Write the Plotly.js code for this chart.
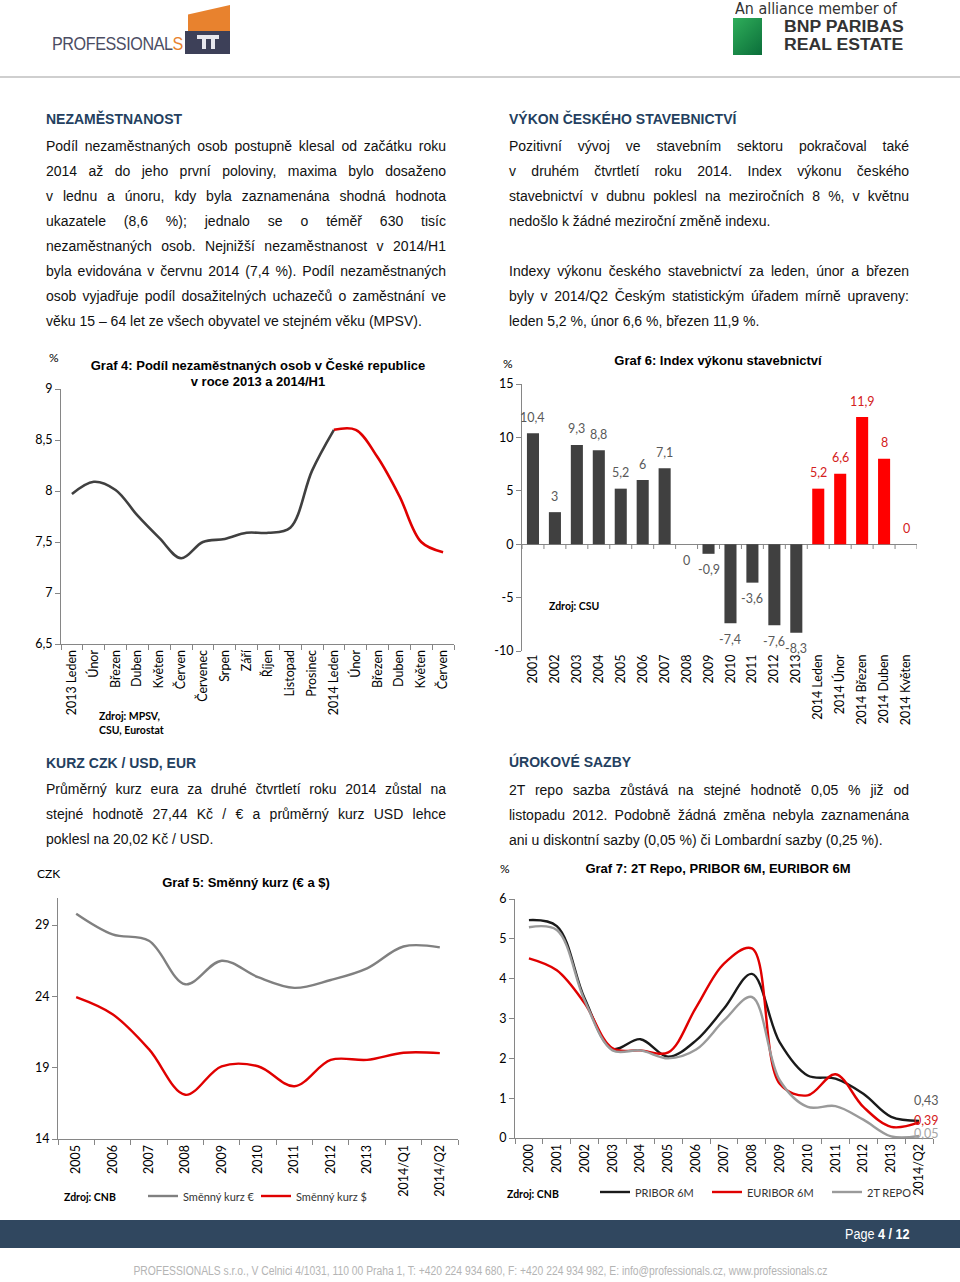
<!DOCTYPE html>
<html><head><meta charset="utf-8">
<script src="https://cdn.plot.ly/plotly-3.0.1.min.js"></script>
<style>
body{margin:0;width:960px;height:1282px;position:relative;background:#fff;font-family:'Liberation Sans',Arial,sans-serif;overflow:hidden}
.abs{position:absolute}
.h{position:absolute;font-weight:bold;font-size:14px;color:#243f60;line-height:16px;white-space:nowrap}
.txt{position:absolute;width:400px;font-size:14px;line-height:25px;color:#111}
.txt div{text-align:justify;text-align-last:justify;height:25px}
.txt div.last{text-align-last:left}
.chart{position:absolute}
.bnp{position:absolute;left:784px;font-size:16px;line-height:18px;height:18px;font-weight:bold;color:#333;transform:scaleX(1.1);transform-origin:left;white-space:nowrap}
</style></head>
<body>
<!-- header -->
<div class="abs" style="left:52px;top:33px;font-family:'Liberation Sans Narrow','Liberation Sans';font-size:19px;color:#4b4d63;letter-spacing:-0.5px;transform:scaleX(0.85);transform-origin:left;white-space:nowrap">PROFESSIONAL<span style="color:#e8822e">S</span></div>
<div class="abs" style="left:188px;top:5px;width:42px;height:27px;background:#e8822e;clip-path:polygon(0 35%,100% 0,100% 100%,0 100%)"></div>
<div class="abs" style="left:185px;top:31px;width:45px;height:23px;background:#3d4058"></div>
<div class="abs" style="left:197px;top:35px;width:22px;height:4px;background:#e8e8ee"></div>
<div class="abs" style="left:202px;top:39px;width:4px;height:10px;background:#e8e8ee"></div>
<div class="abs" style="left:211px;top:39px;width:4px;height:10px;background:#e8e8ee"></div>
<div class="abs" style="left:735px;top:1px;font-size:15px;line-height:17px;color:#333;white-space:nowrap;font-family:'DejaVu Sans Condensed','Liberation Sans';transform:scaleX(1.06);transform-origin:left">An alliance member of</div>
<div class="abs" style="left:733px;top:18px;width:29px;height:37px;background:linear-gradient(135deg,#2fae5a,#0b6e3a)"></div>
<div class="bnp" style="top:18px">BNP PARIBAS</div>
<div class="bnp" style="top:36px">REAL ESTATE</div>
<div class="abs" style="left:0;top:76px;width:960px;height:2px;background:#cfcfcf"></div>

<!-- text blocks -->
<div class="h" style="left:46px;top:111px">NEZAMĚSTNANOST</div>
<div class="txt" style="left:46px;top:134px">
<div>Podíl nezaměstnaných osob postupně klesal od začátku roku</div>
<div>2014 až do jeho první poloviny, maxima bylo dosaženo</div>
<div>v&nbsp;lednu a únoru, kdy byla zaznamenána shodná hodnota</div>
<div>ukazatele (8,6 %); jednalo se o téměř 630 tisíc</div>
<div>nezaměstnaných osob. Nejnižší nezaměstnanost v&nbsp;2014/H1</div>
<div>byla evidována v červnu 2014 (7,4 %). Podíl nezaměstnaných</div>
<div>osob vyjadřuje podíl dosažitelných uchazečů o zaměstnání ve</div>
<div class="last">věku 15 – 64 let ze všech obyvatel ve stejném věku (MPSV).</div>
</div>

<div class="h" style="left:509px;top:111px">VÝKON ČESKÉHO STAVEBNICTVÍ</div>
<div class="txt" style="left:509px;top:134px">
<div>Pozitivní vývoj ve stavebním sektoru pokračoval také</div>
<div>v&nbsp;druhém čtvrtletí roku 2014. Index výkonu českého</div>
<div>stavebnictví v&nbsp;dubnu poklesl na meziročních 8 %, v&nbsp;květnu</div>
<div class="last">nedošlo k žádné meziroční změně indexu.</div>
<div class="last"></div>
<div>Indexy výkonu českého stavebnictví za leden, únor a březen</div>
<div>byly v&nbsp;2014/Q2 Českým statistickým úřadem mírně upraveny:</div>
<div class="last">leden 5,2 %, únor 6,6 %, březen 11,9 %.</div>
</div>

<div class="h" style="left:46px;top:755px">KURZ CZK / USD, EUR</div>
<div class="txt" style="left:46px;top:777px">
<div>Průměrný kurz eura za&nbsp;druhé čtvrtletí roku 2014 zůstal na</div>
<div>stejné hodnotě 27,44 Kč / € a průměrný kurz USD lehce</div>
<div class="last">poklesl na 20,02 Kč / USD.</div>
</div>

<div class="h" style="left:509px;top:754px">ÚROKOVÉ SAZBY</div>
<div class="txt" style="left:509px;top:778px">
<div>2T repo sazba zůstává na stejné hodnotě 0,05 % již od</div>
<div>listopadu 2012. Podobně žádná změna nebyla zaznamenána</div>
<div class="last">ani u diskontní sazby (0,05 %) či Lombardní sazby (0,25 %).</div>
</div>

<div id="c4" class="chart" style="left:0;top:340px;width:480px;height:410px"></div>
<div id="c6" class="chart" style="left:480px;top:340px;width:480px;height:410px"></div>
<div id="c5" class="chart" style="left:0;top:860px;width:480px;height:350px"></div>
<div id="c7" class="chart" style="left:480px;top:850px;width:480px;height:360px"></div>

<!-- footer -->
<div class="abs" style="left:0;top:1220px;width:960px;height:28px;background:#30475f"></div>
<div class="abs" style="left:845px;top:1226px;font-size:14px;color:#fff;white-space:nowrap;transform:scaleX(0.9);transform-origin:left">Page <b>4 / 12</b></div>
<div class="abs" style="left:0;top:1264px;width:960px;text-align:center;font-size:12px;color:#b4b4b4;white-space:nowrap"><span style="display:inline-block;transform:scaleX(0.86)">PROFESSIONALS s.r.o., V Celnici 4/1031, 110 00 Praha 1, T: +420 224 934 680, F: +420 224 934 982, E: info@professionals.cz, www.professionals.cz</span></div>

<script>
// ---------- DATA ----------
// Graf 4
const months4 = ['2013 Leden','Únor','Březen','Duben','Květen','Červen','Červenec','Srpen','Září','Říjen','Listopad','Prosinec','2014 Leden','Únor','Březen','Duben','Květen','Červen'];
const unemp2013 = [7.97, 8.09, 8.01, 7.76, 7.54, 7.34, 7.50, 7.53, 7.59, 7.59, 7.64, 8.20, 8.60];
const unemp2014 = [8.60, 8.60, 8.33, 7.95, 7.50, 7.40];
// Graf 6
const cats6Gray = ['2001','2002','2003','2004','2005','2006','2007','2008','2009','2010','2011','2012','2013'];
const vals6Gray = [10.4, 3, 9.3, 8.8, 5.2, 6, 7.1, 0, -0.9, -7.4, -3.6, -7.6, -8.3];
const cats6Red = ['2014 Leden','2014 Únor','2014 Březen','2014 Duben','2014 Květen'];
const vals6Red = [5.2, 6.6, 11.9, 8, 0];
const yTicks6 = [-10, -5, 0, 5, 10, 15];
// Graf 5
const years5 = ['2005','2006','2007','2008','2009','2010','2011','2012','2013','2014/Q1','2014/Q2'];
const eur5 = [29.8, 28.35, 27.9, 24.85, 26.5, 25.35, 24.6, 25.15, 25.97, 27.5, 27.44];
const usd5 = [23.95, 22.75, 20.3, 17.1, 19.1, 19.1, 17.7, 19.55, 19.55, 20.05, 20.02];
// Graf 7
const years7 = ['2000','2001','2002','2003','2004','2005','2006','2007','2008','2009','2010','2011','2012','2013','2014/Q2'];
const pribor7 = [5.47, 5.32, 3.5, 2.24, 2.48, 2.04, 2.45, 3.25, 4.12, 2.4, 1.57, 1.49, 1.11, 0.53, 0.43];
const euribor7 = [4.51, 4.21, 3.38, 2.25, 2.2, 2.15, 3.28, 4.38, 4.76, 1.36, 1.07, 1.6, 0.78, 0.28, 0.39];
const repo7 = [5.29, 5.22, 3.45, 2.2, 2.2, 2.0, 2.22, 2.95, 3.54, 1.45, 0.78, 0.8, 0.46, 0.04, 0.05];

// ---------- HELPERS ----------
const FONT = 'Lato, "Open Sans", sans-serif';
const TFONT = {family:'"Liberation Sans", Arial, sans-serif', size:13, color:'#000'};
const fmt = v => String(v).replace('.', ',');
function conv(b){
  return {
    x: px => (px - b.left - b.l) / (b.w - b.l - b.r),
    y: py => 1 - (py - b.top - b.t) / (b.h - b.t - b.b)
  };
}
function txt(c, text, px, py, opt){
  return Object.assign({xref:'paper', yref:'paper', x:c.x(px), y:c.y(py), text:text, showarrow:false,
    xanchor:'left', yanchor:'middle', font:{family:FONT, size:12, color:'#000'}}, opt||{});
}
// legend entry drawn as a line sample + label, taken from the trace's name and colour
function legendEntry(c, trace, px, py, shapes, ann){
  shapes.push({type:'line', xref:'paper', yref:'paper', x0:c.x(px), x1:c.x(px + 30), y0:c.y(py), y1:c.y(py),
    line:{color:trace.line.color, width:2.4}});
  ann.push(txt(c, trace.name, px + 33, py, {font:{family:FONT, size:11, color:'#333'}}));
}
const cfg = {staticPlot:true, displayModeBar:false};
function baseAxisX(){
  return {showline:true, linecolor:'#868686', linewidth:1, ticks:'outside', ticklen:5, tickcolor:'#868686',
    tickangle:-90, tickfont:{family:FONT, size:12.5, color:'#000'}, showgrid:false, zeroline:false, fixedrange:true};
}
function baseAxisY(){
  return {showline:true, linecolor:'#868686', linewidth:1, ticks:'outside', ticklen:5, tickcolor:'#868686',
    tickfont:{family:FONT, size:12.5, color:'#000'}, showgrid:false, zeroline:false, fixedrange:true};
}
function marg(b){ return {l:b.l, r:b.r, t:b.t, b:b.b, autoexpand:false}; }
function betweenTicks(n){
  const v = []; for (let i = 0; i <= n; i++) v.push(i - 0.5);
  return {ticks:'outside', ticklen:5, tickcolor:'#868686', tickmode:'array', tickvals:v};
}

// ---------- GRAF 4 ----------
(function(){
  const b = {left:0, top:340, w:480, h:410, l:61, r:26, t:49, b:106};
  const c = conv(b);
  const idx = months4.map((_, i) => i);
  const n13 = unemp2013.length;
  const traces = [
    {x: idx.slice(0, n13), y: unemp2013, type:'scatter', mode:'lines', line:{color:'#404040', width:2.6, shape:'spline', smoothing:1}, hoverinfo:'skip'},
    {x: idx.slice(n13 - 1, n13 - 1 + unemp2014.length), y: unemp2014, type:'scatter', mode:'lines', line:{color:'#e00000', width:2.6, shape:'spline', smoothing:1}, hoverinfo:'skip'}
  ];
  const xa = Object.assign(baseAxisX(), {range:[-0.5, months4.length - 0.5], tickmode:'array', tickvals:idx, ticktext:months4, ticks:'', minor:betweenTicks(months4.length)});
  const ya = Object.assign(baseAxisY(), {range:[6.5, 9], tick0:6.5, dtick:0.5});
  const layout = {
    width:b.w, height:b.h, margin:marg(b), showlegend:false,
    paper_bgcolor:'rgba(0,0,0,0)', plot_bgcolor:'rgba(0,0,0,0)', separators:', ',
    title:{text:'<b>Graf 4: Podíl nezaměstnaných osob v České republice<br>v roce 2013 a 2014/H1</b>', font:TFONT,
      xref:'container', yref:'container', x:258/480, y:1 - 29.5/410, xanchor:'center', yanchor:'middle'},
    xaxis:xa, yaxis:ya,
    annotations:[
      txt(c, '%', 47, 357, {font:{family:FONT, size:12, color:'#000'}}),
      txt(c, '<b>Zdroj: MPSV,<br>CSU, Eurostat</b>', 97, 723, {font:{family:FONT, size:10.5, color:'#000'}, align:'left'})
    ]
  };
  Plotly.newPlot('c4', traces, layout, cfg);
})();

// ---------- GRAF 6 ----------
(function(){
  const b = {left:480, top:340, w:480, h:410, l:42, r:43, t:44, b:99};
  const c = conv(b);
  const allCats = cats6Gray.concat(cats6Red);
  const traces = [
    {x: cats6Gray, y: vals6Gray, type:'bar', marker:{color:'#404040', line:{width:0}}, hoverinfo:'skip'},
    {x: cats6Red, y: vals6Red, type:'bar', marker:{color:'#ff0000', line:{width:0}}, hoverinfo:'skip'}
  ];
  const ann = [];
  function lab(cats, vals, color, zeroUp){
    cats.forEach((k, i) => {
      const v = vals[i];
      const up = v > 0 || (v === 0 && zeroUp);
      ann.push({x:allCats.indexOf(k), y:v, xref:'x', yref:'y', text:fmt(v), showarrow:false, yanchor:'middle', xanchor:'center',
        yshift: up ? 16 : -16, font:{family:FONT, size:12.5, color:color}});
    });
  }
  lab(cats6Gray, vals6Gray, '#595959', false);
  lab(cats6Red, vals6Red, '#d42020', true);
  ann.push(txt(c, '%', 501, 363, {font:{family:FONT, size:12, color:'#000'}}));
  ann.push(txt(c, '<b>Zdroj: CSU</b>', 547, 606, {font:{family:FONT, size:10.5, color:'#000'}}));
  const shapes = [];
  for (let i = 0; i <= allCats.length; i++) {
    shapes.push({type:'line', xref:'x', yref:'y', x0:i - 0.5, x1:i - 0.5, y0:0, y1:-0.45, line:{color:'#868686', width:1}});
  }
  const xa = {type:'category', categoryorder:'array', categoryarray:allCats, range:[-0.5, allCats.length - 0.5],
    showline:false, ticks:'', tickangle:-90, tickfont:{family:FONT, size:12.5, color:'#000'}, showgrid:false, zeroline:false, fixedrange:true};
  const ya = Object.assign(baseAxisY(), {range:[-10, 15], tickmode:'array', tickvals:yTicks6, ticktext:yTicks6.map(String),
    zeroline:true, zerolinecolor:'#868686', zerolinewidth:1});
  const layout = {
    width:b.w, height:b.h, margin:marg(b), showlegend:false, barmode:'overlay', bargap:0.45,
    paper_bgcolor:'rgba(0,0,0,0)', plot_bgcolor:'rgba(0,0,0,0)', separators:', ',
    title:{text:'<b>Graf 6: Index výkonu stavebnictví</b>', font:TFONT,
      xref:'container', yref:'container', x:238/480, y:1 - 20/410, xanchor:'center', yanchor:'middle'},
    xaxis:xa, yaxis:ya, annotations:ann, shapes:shapes
  };
  Plotly.newPlot('c6', traces, layout, cfg);
})();

// ---------- GRAF 5 ----------
(function(){
  const b = {left:0, top:860, w:480, h:350, l:58, r:22, t:38, b:71};
  const c = conv(b);
  const idx = years5.map((_, i) => i);
  const traces = [
    {x: idx, y: eur5, name:'Směnný kurz €', type:'scatter', mode:'lines', line:{color:'#808080', width:2.4, shape:'spline', smoothing:1}, hoverinfo:'skip'},
    {x: idx, y: usd5, name:'Směnný kurz $', type:'scatter', mode:'lines', line:{color:'#e00000', width:2.4, shape:'spline', smoothing:1}, hoverinfo:'skip'}
  ];
  const xa = Object.assign(baseAxisX(), {range:[-0.5, years5.length - 0.5], tickmode:'array', tickvals:idx, ticktext:years5, ticks:'', minor:betweenTicks(years5.length)});
  const ya = Object.assign(baseAxisY(), {range:[14, 30.9], tick0:14, dtick:5});
  const shapes = [], ann = [
    txt(c, 'CZK', 35, 874, {font:{family:FONT, size:12, color:'#000'}}),
    txt(c, '<b>Zdroj: CNB</b>', 62, 1197, {font:{family:FONT, size:10.5, color:'#000'}})
  ];
  legendEntry(c, traces[0], 148, 1196, shapes, ann);
  legendEntry(c, traces[1], 261, 1196, shapes, ann);
  const layout = {
    width:b.w, height:b.h, margin:marg(b), showlegend:false,
    paper_bgcolor:'rgba(0,0,0,0)', plot_bgcolor:'rgba(0,0,0,0)', separators:', ',
    title:{text:'<b>Graf 5: Směnný kurz (€ a $)</b>', font:TFONT,
      xref:'container', yref:'container', x:246/480, y:1 - 22/350, xanchor:'center', yanchor:'middle'},
    xaxis:xa, yaxis:ya, annotations:ann, shapes:shapes
  };
  Plotly.newPlot('c5', traces, layout, cfg);
})();

// ---------- GRAF 7 ----------
(function(){
  const b = {left:480, top:850, w:480, h:360, l:35, r:27, t:49, b:72};
  const c = conv(b);
  const idx = years7.map((_, i) => i);
  const last = years7.length - 1;
  const traces = [
    {x: idx, y: pribor7, name:'PRIBOR 6M', type:'scatter', mode:'lines', line:{color:'#1a1a1a', width:2.4, shape:'spline', smoothing:1}, hoverinfo:'skip'},
    {x: idx, y: euribor7, name:'EURIBOR 6M', type:'scatter', mode:'lines', line:{color:'#e00000', width:2.4, shape:'spline', smoothing:1}, hoverinfo:'skip'},
    {x: idx, y: repo7, name:'2T REPO', type:'scatter', mode:'lines', line:{color:'#9a9a9a', width:2.4, shape:'spline', smoothing:1}, hoverinfo:'skip'}
  ];
  const xa = Object.assign(baseAxisX(), {range:[-0.5, years7.length - 0.5], tickmode:'array', tickvals:idx, ticktext:years7, ticks:'', minor:betweenTicks(years7.length)});
  const ya = Object.assign(baseAxisY(), {range:[0, 6], tick0:0, dtick:1});
  const endLab = (v, color, dy) => ({x:last, y:v, xref:'x', yref:'y', text:fmt(v), showarrow:false, xanchor:'center', yanchor:'middle',
    xshift:7, yshift:dy, font:{family:FONT, size:12.5, color:color}});
  const shapes = [], ann = [
    endLab(pribor7[last], '#595959', 20),
    endLab(euribor7[last], '#d42020', 2),
    endLab(repo7[last], '#a6a6a6', 3),
    txt(c, '%', 498, 868, {font:{family:FONT, size:12, color:'#000'}}),
    txt(c, '<b>Zdroj: CNB</b>', 505, 1194, {font:{family:FONT, size:10.5, color:'#000'}})
  ];
  legendEntry(c, traces[0], 600, 1192, shapes, ann);
  legendEntry(c, traces[1], 712, 1192, shapes, ann);
  legendEntry(c, traces[2], 832, 1192, shapes, ann);
  const layout = {
    width:b.w, height:b.h, margin:marg(b), showlegend:false,
    paper_bgcolor:'rgba(0,0,0,0)', plot_bgcolor:'rgba(0,0,0,0)', separators:', ',
    title:{text:'<b>Graf 7: 2T Repo, PRIBOR 6M, EURIBOR 6M</b>', font:TFONT,
      xref:'container', yref:'container', x:238/480, y:1 - 18/360, xanchor:'center', yanchor:'middle'},
    xaxis:xa, yaxis:ya, annotations:ann, shapes:shapes
  };
  Plotly.newPlot('c7', traces, layout, cfg);
})();
</script>
</body></html>
